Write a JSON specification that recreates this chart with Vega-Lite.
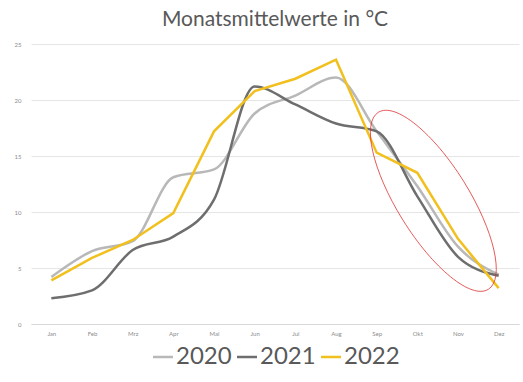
{
  "$schema": "https://vega.github.io/schema/vega-lite/v6.json",
  "autosize": {"type": "fit", "contains": "padding"},
  "width": 523,
  "height": 382,
  "padding": {"left": 14, "right": 4, "top": 9, "bottom": 13},
  "background": "white",
  "title": {"text": "Monatsmittelwerte in °C", "fontSize": 21, "font": "Lato", "fontWeight": "normal", "color": "#595959", "offset": 11},
  "config": {
    "view": {"stroke": null},
    "font": "Lato",
    "legend": {"layout": {"bottom": {"anchor": "middle"}}}
  },
  "data": {"values": [
    {"Monat": "Jan", "Jahr": "2020", "Wert": 4.2},
    {"Monat": "Feb", "Jahr": "2020", "Wert": 6.5},
    {"Monat": "Mrz", "Jahr": "2020", "Wert": 7.4},
    {"Monat": "Apr", "Jahr": "2020", "Wert": 13.1},
    {"Monat": "Mai", "Jahr": "2020", "Wert": 13.8},
    {"Monat": "Jun", "Jahr": "2020", "Wert": 18.8},
    {"Monat": "Jul", "Jahr": "2020", "Wert": 20.4},
    {"Monat": "Aug", "Jahr": "2020", "Wert": 22.0},
    {"Monat": "Sep", "Jahr": "2020", "Wert": 17.2},
    {"Monat": "Okt", "Jahr": "2020", "Wert": 12.3},
    {"Monat": "Nov", "Jahr": "2020", "Wert": 6.9},
    {"Monat": "Dez", "Jahr": "2020", "Wert": 4.4},
    {"Monat": "Jan", "Jahr": "2021", "Wert": 2.3},
    {"Monat": "Feb", "Jahr": "2021", "Wert": 3.0},
    {"Monat": "Mrz", "Jahr": "2021", "Wert": 6.6},
    {"Monat": "Apr", "Jahr": "2021", "Wert": 7.8},
    {"Monat": "Mai", "Jahr": "2021", "Wert": 11.1},
    {"Monat": "Jun", "Jahr": "2021", "Wert": 21.2},
    {"Monat": "Jul", "Jahr": "2021", "Wert": 19.6},
    {"Monat": "Aug", "Jahr": "2021", "Wert": 17.9},
    {"Monat": "Sep", "Jahr": "2021", "Wert": 17.2},
    {"Monat": "Okt", "Jahr": "2021", "Wert": 11.4},
    {"Monat": "Nov", "Jahr": "2021", "Wert": 6.0},
    {"Monat": "Dez", "Jahr": "2021", "Wert": 4.3},
    {"Monat": "Jan", "Jahr": "2022", "Wert": 3.9},
    {"Monat": "Feb", "Jahr": "2022", "Wert": 5.9},
    {"Monat": "Mrz", "Jahr": "2022", "Wert": 7.5},
    {"Monat": "Apr", "Jahr": "2022", "Wert": 9.9},
    {"Monat": "Mai", "Jahr": "2022", "Wert": 17.2},
    {"Monat": "Jun", "Jahr": "2022", "Wert": 20.8},
    {"Monat": "Jul", "Jahr": "2022", "Wert": 21.9},
    {"Monat": "Aug", "Jahr": "2022", "Wert": 23.6},
    {"Monat": "Sep", "Jahr": "2022", "Wert": 15.3},
    {"Monat": "Okt", "Jahr": "2022", "Wert": 13.5},
    {"Monat": "Nov", "Jahr": "2022", "Wert": 7.6},
    {"Monat": "Dez", "Jahr": "2022", "Wert": 3.2}
  ]},
  "encoding": {
    "x": {"field": "Monat", "type": "ordinal", "sort": ["Jan","Feb","Mrz","Apr","Mai","Jun","Jul","Aug","Sep","Okt","Nov","Dez"],
      "scale": {"type": "point", "padding": 0.5},
      "axis": {"title": null, "labelAngle": 0, "labelFontSize": 6, "labelColor": "#8c8c8c", "ticks": false, "domainColor": "#d9d9d9", "labelPadding": 6, "grid": false}},
    "y": {"field": "Wert", "type": "quantitative",
      "scale": {"domain": [0, 25], "nice": false},
      "axis": {"title": null, "values": [0,5,10,15,20,25], "labelFontSize": 6, "labelColor": "#8c8c8c", "ticks": false, "domain": false, "gridColor": "#e6e6e6", "labelPadding": 10}},
    "color": {"field": "Jahr", "type": "nominal",
      "scale": {"domain": ["2020","2021","2022"], "range": ["#b8b8b8", "#6e6e6e", "#f2c01e"]},
      "legend": {"title": null, "orient": "bottom", "direction": "horizontal", "symbolType": "stroke", "symbolSize": 400, "symbolStrokeWidth": 2.5, "labelFontSize": 24, "labelColor": "#595959", "labelOffset": 1, "columnPadding": 0, "symbolOffset": 0, "offset": 9, "labelLimit": 200}}
  },
  "layer": [
    {"transform": [{"filter": "datum.Jahr !== '2022'"}], "mark": {"type": "line", "interpolate": "monotone", "strokeWidth": 2.5}},
    {"transform": [{"filter": "datum.Jahr === '2022'"}], "mark": {"type": "line", "strokeWidth": 2.5}},
    {"data": {"values": [{"Monat": "Okt", "Wert": 11}]},
     "mark": {"type": "point", "filled": false, "stroke": "#e03030", "strokeWidth": 0.8, "size": 40000, "opacity": 1,
       "shape": "M0.710,0.885 C0.879,0.780 0.770,0.299 0.466,-0.190 C0.162,-0.679 -0.221,-0.990 -0.390,-0.885 C-0.559,-0.780 -0.450,-0.299 -0.146,0.190 C0.158,0.679 0.541,0.990 0.710,0.885 Z"},
     "encoding": {"x": {"field": "Monat", "type": "ordinal"}, "y": {"field": "Wert", "type": "quantitative"}, "color": {"value": "#e03030"}}}
  ]
}
